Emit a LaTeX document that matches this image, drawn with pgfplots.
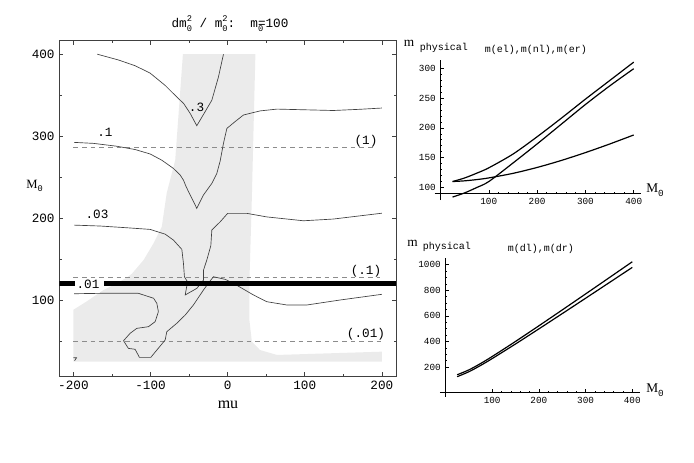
\documentclass[border=0pt]{standalone}
\usepackage{pgfplots}
\pgfplotsset{compat=1.18}
\usepackage{fontspec}
\setmainfont{Liberation Serif}
\newfontfamily\cour{Liberation Mono}
\newcommand\supsub[2]{\rlap{\raisebox{0.85ex}{\fontsize{6.5}{7}\selectfont#1}}\raisebox{-0.6ex}{\fontsize{6.5}{7}\selectfont#2}}
\newcommand\sub[1]{\raisebox{-0.6ex}{\fontsize{6.5}{7}\selectfont#1}}
\begin{document}
\begin{tikzpicture}[x=0.75pt,y=0.75pt]
\path[use as bounding box] (0,0) rectangle (694,463);
% ---------------- main contour panel ----------------
\begin{axis}[at={(44.475pt,65.25pt)}, anchor=south west, scale only axis,
  width=252.5pt, height=251.5pt,
  xmin=-218.3, xmax=218.3, ymin=8.4, ymax=416.5,
  xtick={-200,-100,0,100,200}, xticklabels={-200,-100,0,100,200},
  ytick={100,200,300,400}, yticklabels={100,200,300,400},
  minor xtick={-150,-50,50,150}, minor ytick={50,150,250,350},
  tick align=inside, major tick length=3pt, minor tick length=1.8pt,
  tick style={black!75, line width=0.5pt},
  axis line style={black!75, line width=0.6pt},
  tick label style={font=\cour\fontsize{9.5}{11}\selectfont},
  clip=true]
\addplot[fill=black!8, draw=none] coordinates {
 (-58,400) (-68,271) (-79,231) (-85.4,190) (-96,170) (-109,149.5) (-124,133)
 (-131,128) (-146,120) (-161,113) (-183,99) (-200,89) (-200,26) (200,26)
 (200,38) (64,34) (42,40) (31.4,50) (28.3,76) (28.3,125) (31.4,225) (36,400)} --cycle;
% dashed reference lines
\addplot[black!45, line width=0.6pt, dash pattern=on 3.5pt off 3pt] coordinates {(-200,286) (193,286)};
\addplot[black!45, line width=0.6pt, dash pattern=on 3.5pt off 3pt] coordinates {(-200,128.5) (197,128.5)};
\addplot[black!45, line width=0.6pt, dash pattern=on 3.5pt off 3pt] coordinates {(-200,51) (200,51)};
% contours
\addplot[black!75, line width=0.5pt] coordinates {
 (-169,400) (-141.6,393) (-120,386) (-100.5,377) (-81,362) (-66,348) (-57,340)
 (-48.6,328) (-40,313) (-30.5,328) (-20.5,344) (-12,372) (-5.4,400)};
\addplot[black!75, line width=0.5pt] coordinates {
 (-199,292.7) (-174,291.5) (-143.7,288) (-120,284) (-100.5,278.6) (-85.3,271)
 (-70.3,261) (-61.6,253) (-57.3,246.8) (-53.8,238.7) (-46.4,224.6) (-40,212.4)
 (-31.4,228.6) (-20.5,242.8) (-14,255) (-9.7,270) (-5.4,291.5) (-1,309.7)
 (9.7,318) (20.5,326) (42,331) (64,333.2) (115.7,332) (137,331.5) (172,333) (200,334.5)};
\addplot[black!75, line width=0.5pt] coordinates {
 (-199,192) (-165,190.9) (-130.7,188.8) (-100.5,186.8) (-81,181) (-70.3,173.8)
 (-59.4,162.5) (-57.3,145.5) (-56,129) (-52,123) (-55,107) (-40,115) (-31.4,125)
 (-31.4,137) (-27,149.5) (-21.8,167) (-20.5,186) (-9.7,196) (0,206.3) (25,206.3)
 (50.8,202) (98.3,197.3) (137,199.4) (200,206.5)};
\addplot[black!75, line width=0.5pt] coordinates {
 (-199,108.5) (-165,109) (-115.7,109) (-96,103) (-91.8,96.8) (-89.8,86.6)
 (-94,74.5) (-102.7,68.4) (-117.8,66.4) (-126.5,60.3) (-135,51.3) (-128.7,42)
 (-120,40.9) (-114.4,31.1) (-99.6,31.1) (-91.8,40) (-81,52.2) (-78.9,62.3)
 (-66,72.5) (-55,82.6) (-44.4,94.8) (-31.4,113) (-25,121.2) (-18.4,129.2)
 (-3.2,126) (7.5,121.2) (33.5,107) (50.8,98.8) (76.8,94.8) (102.7,94.8)
 (146,100.9) (200,107.8)};
\addplot[black!75, line width=0.5pt] coordinates {(-200,30.5) (-196,30.5) (-198.5,27)};
% thick line
\addplot[black, line width=3.75pt] coordinates {(-218.3,121) (-198,121)};
\addplot[black, line width=3.75pt] coordinates {(-160,121) (218.3,121)};
\end{axis}
% labels of main panel (pixel coordinates, y from bottom)
\begin{scope}[every node/.style={font=\cour\fontsize{9.5}{11}\selectfont, inner sep=0pt}]
\node at (196.6,463-107.5) {.3};
\node at (105,463-132.5) {.1};
\node at (97,463-214.5) {.03};
\node at (88,463-284.2) {.01};
\node at (366,463-141.5) {(1)};
\node at (366,463-271) {(.1)};
\node at (366,463-334.3) {(.01)};
\node at (230,463-24) {dm\supsub{2}{0} / m\supsub{2}{0}:~~m\rlap{\sub{0}}=100};
\end{scope}
\node[font=\fontsize{12}{14}\selectfont, inner sep=0pt] at (228,463-405) {mu};
\node[font=\fontsize{9.5}{11}\selectfont, inner sep=0pt, anchor=west] at (26,463-186) {M\rlap{\raisebox{-0.6ex}{\cour\fontsize{6.5}{7}\selectfont 0}}};
% ---------------- top right panel ----------------
\begin{axis}[at={(330.375pt,202.125pt)}, anchor=south west, scale only axis,
  width=150.7pt, height=100.3pt,
  xmin=0, xmax=416, ymin=90, ymax=314,
  axis x line*=bottom, axis y line*=left,
  xtick={100,200,300,400}, xticklabels={100,200,300,400},
  ytick={100,150,200,250,300}, yticklabels={100,150,200,250,300},
  minor x tick num=4, minor y tick num=4,
  tick align=inside, major tick length=2.5pt, minor tick length=1.2pt,
  tick style={black, line width=0.4pt},
  axis line style={black, line width=0.5pt},
  tick label style={font=\cour\fontsize{7}{8}\selectfont},
  clip=false]
\addplot[black, line width=0.9pt, smooth] coordinates {
 (25,110) (50,116) (75,124) (100,133) (150,156) (200,185) (250,216) (300,248) (350,279) (400,310)};
\addplot[black, line width=0.9pt, smooth] coordinates {
 (25,84) (50,91) (75,100) (100,110) (150,141) (200,173) (250,206) (300,239) (350,270) (400,299)};
\addplot[black, line width=0.9pt, smooth] coordinates {
 (25,110) (50,111.2) (75,113.3) (100,116.1) (150,123.7) (200,133.6) (250,145.3) (300,158.5) (350,172.8) (400,188)};
\draw[black, line width=0.5pt] (axis cs:-12,90) -- (axis cs:0,90);
\draw[black, line width=0.5pt] (axis cs:0,79) -- (axis cs:0,90);
\end{axis}
\node[font=\fontsize{10}{11}\selectfont, inner sep=0pt] at (409,463-43) {m};
\node[font=\cour\fontsize{7.5}{9}\selectfont, inner sep=0pt] at (444,463-48) {physical};
\node[font=\cour\fontsize{7.5}{9}\selectfont, inner sep=0pt] at (536,463-50) {m(el),m(nl),m(er)};
\node[font=\fontsize{10}{11}\selectfont, inner sep=0pt, anchor=west] at (646,463-190) {M\rlap{\raisebox{-0.6ex}{\cour\fontsize{7}{8}\selectfont 0}}};
% ---------------- bottom right panel ----------------
\begin{axis}[at={(334.125pt,52.725pt)}, anchor=south west, scale only axis,
  width=145.7pt, height=100.8pt,
  xmin=0, xmax=416, ymin=0, ymax=1050,
  axis x line*=bottom, axis y line*=left,
  xtick={100,200,300,400}, xticklabels={100,200,300,400},
  ytick={200,400,600,800,1000}, yticklabels={200,400,600,800,1000},
  minor x tick num=4, minor y tick num=3,
  tick align=inside, major tick length=2.5pt, minor tick length=1.2pt,
  tick style={black, line width=0.4pt},
  axis line style={black, line width=0.5pt},
  tick label style={font=\cour\fontsize{7}{8}\selectfont},
  clip=false]
\addplot[black, line width=0.9pt, smooth] coordinates {
 (25,140) (50,178) (75,227.6) (100,282.8) (150,400.6) (200,522.7) (250,646.6) (300,771.5) (350,896.9) (400,1023)};
\addplot[black, line width=0.9pt, smooth] coordinates {
 (25,125) (50,163.5) (75,212.6) (100,266.6) (150,380.8) (200,498.6) (250,617.8) (300,737.8) (350,858.3) (400,979)};
\draw[black, line width=0.5pt] (axis cs:-12,0) -- (axis cs:0,0);
\draw[black, line width=0.5pt] (axis cs:0,-30) -- (axis cs:0,0);
\end{axis}
\node[font=\fontsize{10}{11}\selectfont, inner sep=0pt] at (412.5,463-243.5) {m};
\node[font=\cour\fontsize{7.5}{9}\selectfont, inner sep=0pt] at (447,463-246.5) {physical};
\node[font=\cour\fontsize{7.5}{9}\selectfont, inner sep=0pt] at (541,463-248.5) {m(dl),m(dr)};
\node[font=\fontsize{10}{11}\selectfont, inner sep=0pt, anchor=west] at (646,463-390) {M\rlap{\raisebox{-0.6ex}{\cour\fontsize{7}{8}\selectfont 0}}};
\end{tikzpicture}
\end{document}
